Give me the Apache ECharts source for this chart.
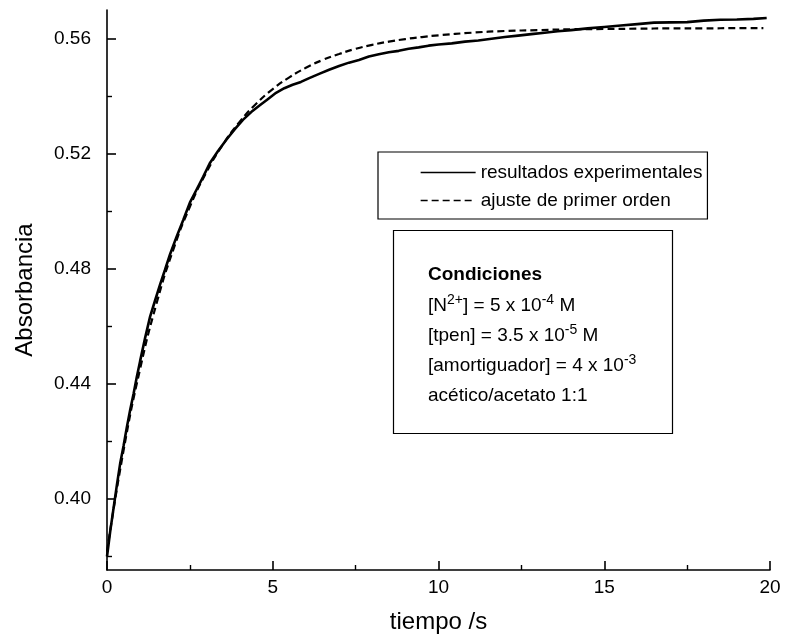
<!DOCTYPE html>
<html>
<head>
<meta charset="utf-8">
<script src="https://cdn.jsdelivr.net/npm/echarts@6/dist/echarts.min.js"></script>
<style>
  html, body { margin: 0; padding: 0; background: #fff; }
  #chart { width: 786px; height: 643px; }
</style>
</head>
<body>
<div id="chart"></div>
<script>
// Absorbance vs time: measured trace and first-order fit
const FONT = "'Liberation Sans', Arial, Helvetica, sans-serif";

const seriesNames = ['resultados experimentales', 'ajuste de primer orden'];

// measured absorbance [t (s), A]
const experimental = [
  [0, 0.380], [0.1, 0.389], [0.2, 0.397], [0.3, 0.405], [0.4, 0.4125],
  [0.5, 0.4185], [0.6, 0.425], [0.7, 0.431], [0.8, 0.4365], [0.9, 0.4425],
  [1.0, 0.448], [1.15, 0.456], [1.3, 0.4634], [1.45, 0.469], [1.6, 0.4745],
  [1.75, 0.4797], [1.9, 0.485], [2.1, 0.4912], [2.3, 0.497], [2.5, 0.503],
  [2.7, 0.5075], [2.9, 0.512], [3.1, 0.5167], [3.35, 0.521], [3.6, 0.5249],
  [3.85, 0.5285], [4.1, 0.5318], [4.35, 0.5345], [4.6, 0.5368], [4.85, 0.539],
  [5.1, 0.5412], [5.35, 0.5428], [5.6, 0.544], [5.85, 0.545], [6.1, 0.5463],
  [6.4, 0.5478], [6.7, 0.5492], [7.0, 0.5505], [7.3, 0.5517], [7.6, 0.5526],
  [7.9, 0.5538], [8.2, 0.5546], [8.5, 0.5553], [8.8, 0.5558], [9.1, 0.5565],
  [9.4, 0.557], [9.7, 0.5576], [10.0, 0.558], [10.4, 0.5584], [10.8, 0.559],
  [11.2, 0.5594], [11.6, 0.56], [12.0, 0.5606], [12.4, 0.5611], [12.8, 0.5616],
  [13.2, 0.5621], [13.6, 0.5626], [14.0, 0.563], [14.5, 0.5636], [15.0, 0.5641],
  [15.5, 0.5646], [16.0, 0.5651], [16.5, 0.5656], [17.0, 0.5657], [17.5, 0.5658],
  [18.0, 0.5663], [18.5, 0.5666], [19.0, 0.5667], [19.5, 0.5669], [19.9, 0.5672]
];

// first-order fit [t (s), A]
const firstOrderFit = [
  [0, 0.3817], [0.5, 0.4169], [1.0, 0.4453], [1.5, 0.4682], [2.0, 0.4867],
  [2.5, 0.5016], [3.0, 0.5136], [3.5, 0.5233], [4.0, 0.5311], [4.5, 0.5374],
  [5.0, 0.5425], [5.5, 0.5466], [6.0, 0.5499], [6.5, 0.5526], [7.0, 0.5547],
  [7.5, 0.5565], [8.0, 0.5579], [8.5, 0.559], [9.0, 0.5599], [9.5, 0.5606],
  [10.0, 0.5612], [11.0, 0.5621], [12.0, 0.5627], [13.0, 0.563], [14.0, 0.5633],
  [15.0, 0.5634], [16.0, 0.5635], [17.0, 0.5636], [18.0, 0.5636], [19.0, 0.5637],
  [19.8, 0.5637]
];

const yMajorTicks = [0.40, 0.44, 0.48, 0.52, 0.56];
const yMinorTicks = [0.38, 0.42, 0.46, 0.50, 0.54];
const yRange = [0.3753, 0.570];
const xRange = [0, 20];

const conditionsTitle = 'Condiciones';
const conditionsLines = [
  '[N{sup|2+}] = 5 x 10{sup|-4} M',
  '[tpen] = 3.5 x 10{sup|-5} M',
  '[amortiguador] = 4 x 10{sup|-3}',
  'acético/acetato 1:1'
];

const chart = echarts.init(document.getElementById('chart'), null, { renderer: 'canvas' });

const axisLineStyle = { color: '#000', width: 1.6 };

const conditionsGraphics = [
  {
    type: 'rect',
    shape: { x: 393.5, y: 230.5, width: 279, height: 203 },
    style: { fill: 'none', stroke: '#000', lineWidth: 1.2 },
    silent: true
  },
  {
    type: 'text',
    x: 428, y: 275,
    style: { text: conditionsTitle, font: 'bold 19px ' + FONT, fill: '#000', verticalAlign: 'middle' },
    silent: true
  }
].concat(conditionsLines.map((line, i) => ({
  type: 'text',
  x: 428, y: 306 + i * 30,
  style: {
    text: line,
    font: '19px ' + FONT,
    fill: '#000',
    verticalAlign: 'middle',
    rich: {
      sup: { fontSize: 14, fontFamily: FONT, verticalAlign: 'top', padding: [0, 0, 12, 0] }
    }
  },
  silent: true
})));

chart.setOption({
  animation: false,
  backgroundColor: '#fff',
  textStyle: { fontFamily: FONT, color: '#000' },
  grid: { left: 107, right: 16, top: 10, bottom: 73, containLabel: false },
  legend: {
    show: true,
    data: seriesNames,
    orient: 'vertical',
    left: 378,
    top: 152,
    padding: [11, 5, 9, 42],
    itemWidth: 55,
    itemHeight: 10,
    itemGap: 9,
    borderColor: '#000',
    borderWidth: 1.2,
    itemStyle: { opacity: 0 },
    lineStyle: { width: 1.3 },
    textStyle: { fontSize: 19, fontFamily: FONT, color: '#000', lineHeight: 19 },
    selectedMode: false
  },
  xAxis: {
    type: 'value',
    min: xRange[0],
    max: xRange[1],
    interval: 5,
    name: 'tiempo /s',
    nameLocation: 'middle',
    nameGap: 40,
    nameTextStyle: { fontSize: 24, fontFamily: FONT, color: '#000' },
    axisLine: { show: true, onZero: false, lineStyle: axisLineStyle },
    axisTick: { show: true, inside: true, length: 9, lineStyle: axisLineStyle },
    minorTick: { show: true, splitNumber: 2, length: 5, lineStyle: { color: '#000', width: 1.4 } },
    axisLabel: { fontSize: 19, color: '#000', margin: 8, fontFamily: FONT },
    splitLine: { show: false },
    minorSplitLine: { show: false }
  },
  yAxis: [
    {
      type: 'value',
      min: yRange[0],
      max: yRange[1],
      position: 'left',
      name: 'Absorbancia',
      nameLocation: 'middle',
      nameGap: 70,
      nameTextStyle: { fontSize: 24, fontFamily: FONT, color: '#000' },
      axisLine: { show: true, onZero: false, lineStyle: axisLineStyle },
      axisTick: { show: true, inside: true, length: 9, customValues: yMajorTicks, lineStyle: axisLineStyle },
      axisLabel: {
        fontSize: 19, color: '#000', margin: 16, fontFamily: FONT,
        customValues: yMajorTicks,
        formatter: v => v.toFixed(2)
      },
      splitLine: { show: false }
    },
    {
      type: 'value',
      min: yRange[0],
      max: yRange[1],
      position: 'left',
      axisLine: { show: false },
      axisTick: { show: true, inside: true, length: 5, customValues: yMinorTicks, lineStyle: { color: '#000', width: 1.4 } },
      axisLabel: { show: false },
      splitLine: { show: false }
    }
  ],
  series: [
    {
      name: seriesNames[0],
      type: 'line',
      data: experimental,
      symbol: 'none',
      showSymbol: false,
      smooth: false,
      lineStyle: { color: '#000', width: 2.6 },
      itemStyle: { color: '#000' },
      silent: true
    },
    {
      name: seriesNames[1],
      type: 'line',
      data: firstOrderFit,
      symbol: 'none',
      showSymbol: false,
      smooth: true,
      lineStyle: { color: '#000', width: 2.2, type: [7, 4] },
      itemStyle: { color: '#000' },
      silent: true
    }
  ],
  graphic: conditionsGraphics
});
</script>
</body>
</html>
